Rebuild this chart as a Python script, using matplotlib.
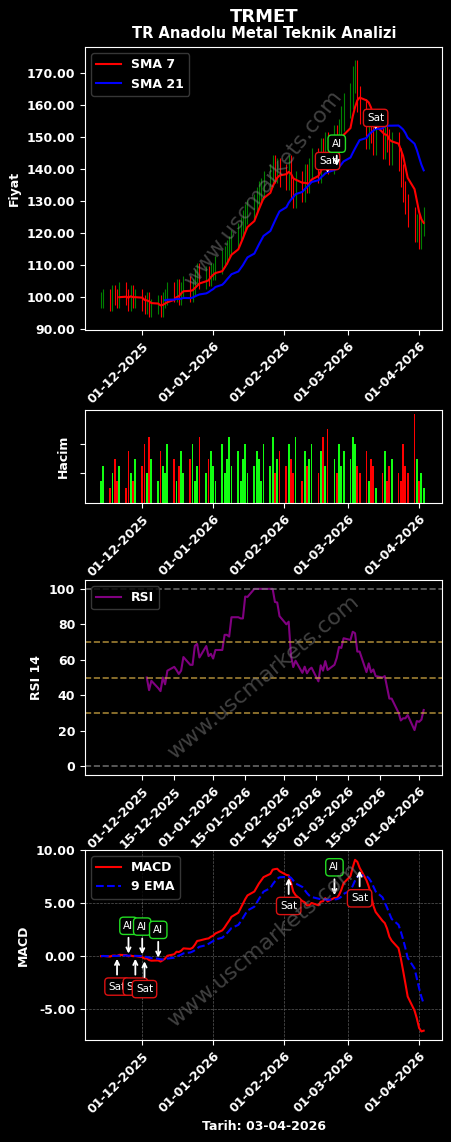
import matplotlib

matplotlib.use("Agg")
import matplotlib.pyplot as plt
import matplotlib.dates as mdates
import numpy as np
import pandas as pd

plt.rcParams.update({"font.weight": "bold", "axes.labelweight": "bold", "font.size": 9})

dates = pd.bdate_range("2025-11-13", "2026-04-03")
close = [
    99, 100, 98, 101, 100, 99, 102, 100, 98, 101, 99, 100,
    98, 97, 99, 96, 97, 98, 96, 99, 100, 102, 101, 103, 100, 102, 104, 101, 103, 106, 108, 105, 107, 106, 108,
    108, 110, 112, 113, 115, 116, 118, 120, 122, 124, 126, 127, 129, 131, 133, 134, 136, 138, 141, 139, 140, 138,
    137, 141, 134, 131, 136, 133, 138, 136, 140, 143, 139, 146, 144, 148, 142, 150, 147, 152, 156, 160,
    163, 168, 170, 162, 158, 150, 155, 152, 148, 151, 147, 153, 149, 145, 148, 143, 138, 133, 129, 125, 120, 123,
    118, 122, 125,
]
volume = [
    3, 5, 2, 4, 6, 3, 5, 2, 7, 4, 3, 6,
    5, 8, 4, 9, 6, 3, 7, 5, 4, 8, 6, 3, 5, 7, 4, 6, 8, 3, 5, 9, 4, 6, 7,
    5, 3, 8, 4, 6, 9, 5, 7, 3, 6, 8, 4, 5, 7, 6, 3, 8, 5, 9, 4, 6, 7,
    5, 8, 6, 4, 9, 3, 7, 5, 6, 8, 4, 7, 9, 5, 10, 6, 4, 8, 5, 7,
    6, 9, 8, 5, 4, 7, 3, 6, 5, 2, 4, 7, 3, 5, 6, 4, 3, 8, 5, 4, 12, 6,
    3, 4, 2,
]
price_sigs = [("2026-02-20", "Sat"), ("2026-02-24", "Al"), ("2026-03-13", "Sat")]
macd_sigs = [
    ("2025-11-20", "Sat"), ("2025-11-25", "Al"), ("2025-11-28", "Sat"),
    ("2025-12-01", "Al"), ("2025-12-02", "Sat"), ("2025-12-08", "Al"),
    ("2026-02-03", "Sat"), ("2026-02-23", "Al"), ("2026-03-06", "Sat"),
]

s = pd.Series(close, index=dates, dtype=float)
opn = s.shift(1).fillna(s.iloc[0])
sma7 = s.rolling(7).mean()
sma21 = s.rolling(21).mean()
d = s.diff()
rs = d.clip(lower=0).rolling(14).mean() / (-d.clip(upper=0)).rolling(14).mean()
rsi = 100 - 100 / (1 + rs)
macd = s.ewm(span=12).mean() - s.ewm(span=26).mean()
sig = macd.ewm(span=9).mean()

fig = plt.figure(figsize=(4.51, 11.42), dpi=100, facecolor="black")
W, H = 451, 1142


def mkax(top, bot):
    ax = fig.add_axes([85 / W, 1 - bot / H, 357 / W, (bot - top) / H])
    ax.set_facecolor("black")
    for sp in ax.spines.values():
        sp.set_color("white")
    ax.tick_params(colors="white", labelsize=9)
    ax.xaxis.label.set_color("white")
    ax.yaxis.label.set_color("white")
    ax.xaxis.set_major_formatter(mdates.DateFormatter("%d-%m-%Y"))
    ax.set_xlim(pd.Timestamp("2025-11-06"), pd.Timestamp("2026-04-11"))
    return ax


def rot(ax):
    for lb in ax.get_xticklabels():
        lb.set_rotation(45)
        lb.set_ha("right")
        lb.set_rotation_mode("anchor")


def wm(ax, r=40):
    ax.text(0.5, 0.5, "www.uscmarkets.com", transform=ax.transAxes, rotation=r,
            ha="center", va="center", color="gray", alpha=0.5, fontsize=16, fontweight="normal")


monthly = [pd.Timestamp(x) for x in ["2025-12-01", "2026-01-01", "2026-02-01", "2026-03-01", "2026-04-01"]]


def box(ax, dt, y, txt, dy):
    col = "#22dd22" if txt == "Al" else "#dd1111"
    ax.annotate(txt, xy=(pd.Timestamp(dt), y), xytext=(0, dy), textcoords="offset points",
                ha="center", va="center", color="white", fontsize=7.5, fontweight="normal",
                bbox=dict(boxstyle="round,pad=0.35", fc="black", ec=col, lw=1),
                arrowprops=dict(arrowstyle="->", color="white", lw=1.3))


# price
axp = mkax(47, 330)
up = s >= opn
for dt, o, c in zip(dates, opn, s):
    col = "green" if c >= o else "red"
    axp.vlines(dt, min(o, c) * 0.975, max(o, c) * 1.025, color=col, lw=0.8)
axp.plot(dates, sma7, color="red", lw=1.5, label="SMA 7")
axp.plot(dates, sma21, color="blue", lw=1.5, label="SMA 21")
for dt, t in price_sigs:
    box(axp, dt, sma21[pd.Timestamp(dt)], t, 18 if t == "Al" else 8)
axp.set_ylabel("Fiyat")
axp.yaxis.set_major_formatter(matplotlib.ticker.FormatStrFormatter("%.2f"))
axp.set_yticks(np.arange(90, 171, 10))
axp.set_xticks(monthly)
rot(axp)
axp.legend(loc="upper left", facecolor="black", edgecolor="#444", labelcolor="white", fontsize=9)
wm(axp, 52)
fig.text(0.585, 1 - 17 / H, "TRMET", color="white", fontsize=13, ha="center", va="center", fontweight="bold")
fig.text(0.585, 1 - 34 / H, "TR Anadolu Metal Teknik Analizi", color="white", fontsize=10.5, ha="center",
         va="center", fontweight="bold")

# volume
axv = mkax(410, 503)
axv.bar(dates, volume, color=["#11ff11" if u else "red" for u in up], width=0.8)
axv.set_ylabel("Hacim")
axv.set_yticks([4, 8])
axv.set_yticklabels([])
axv.set_xticks(monthly)
rot(axv)

# rsi
axr = mkax(580, 775)
axr.plot(dates, rsi, color="purple", lw=1.5, label="RSI")
for lv, c in [(0, "gray"), (30, "#c8a040"), (50, "#c8a040"), (70, "#c8a040"), (100, "gray")]:
    axr.axhline(lv, color=c, ls="--", lw=1.2, alpha=0.8)
axr.set_ylim(-5, 105)
axr.set_yticks([0, 20, 40, 60, 80, 100])
axr.set_ylabel("RSI 14")
axr.set_xticks([pd.Timestamp(x) for x in ["2025-12-01", "2025-12-15", "2026-01-01", "2026-01-15", "2026-02-01",
                                          "2026-02-15", "2026-03-01", "2026-03-15", "2026-04-01"]])
rot(axr)
axr.legend(loc="upper left", facecolor="black", edgecolor="#444", labelcolor="white", fontsize=9)
wm(axr)

# macd
axm = mkax(850, 1040)
axm.plot(dates, macd, color="red", lw=1.5, label="MACD")
axm.plot(dates, sig, color="blue", ls="--", lw=1.5, label="9 EMA")
for dt, t in macd_sigs:
    box(axm, dt, macd[pd.Timestamp(dt)], t, 22 if t == "Al" else -22)
axm.grid(color="gray", ls="--", lw=0.5, alpha=0.7)
axm.set_ylabel("MACD")
axm.yaxis.set_major_formatter(matplotlib.ticker.FormatStrFormatter("%.2f"))
axm.set_yticks([-5, 0, 5, 10])
axm.set_xticks(monthly)
rot(axm)
axm.legend(loc="upper left", facecolor="black", edgecolor="#444", labelcolor="white", fontsize=9)
wm(axm)
fig.text(0.585, 1 - 1126 / H, "Tarih: 03-04-2026", color="white", fontsize=9, ha="center", va="center",
         fontweight="bold")

fig.savefig("out.png", facecolor="black")
